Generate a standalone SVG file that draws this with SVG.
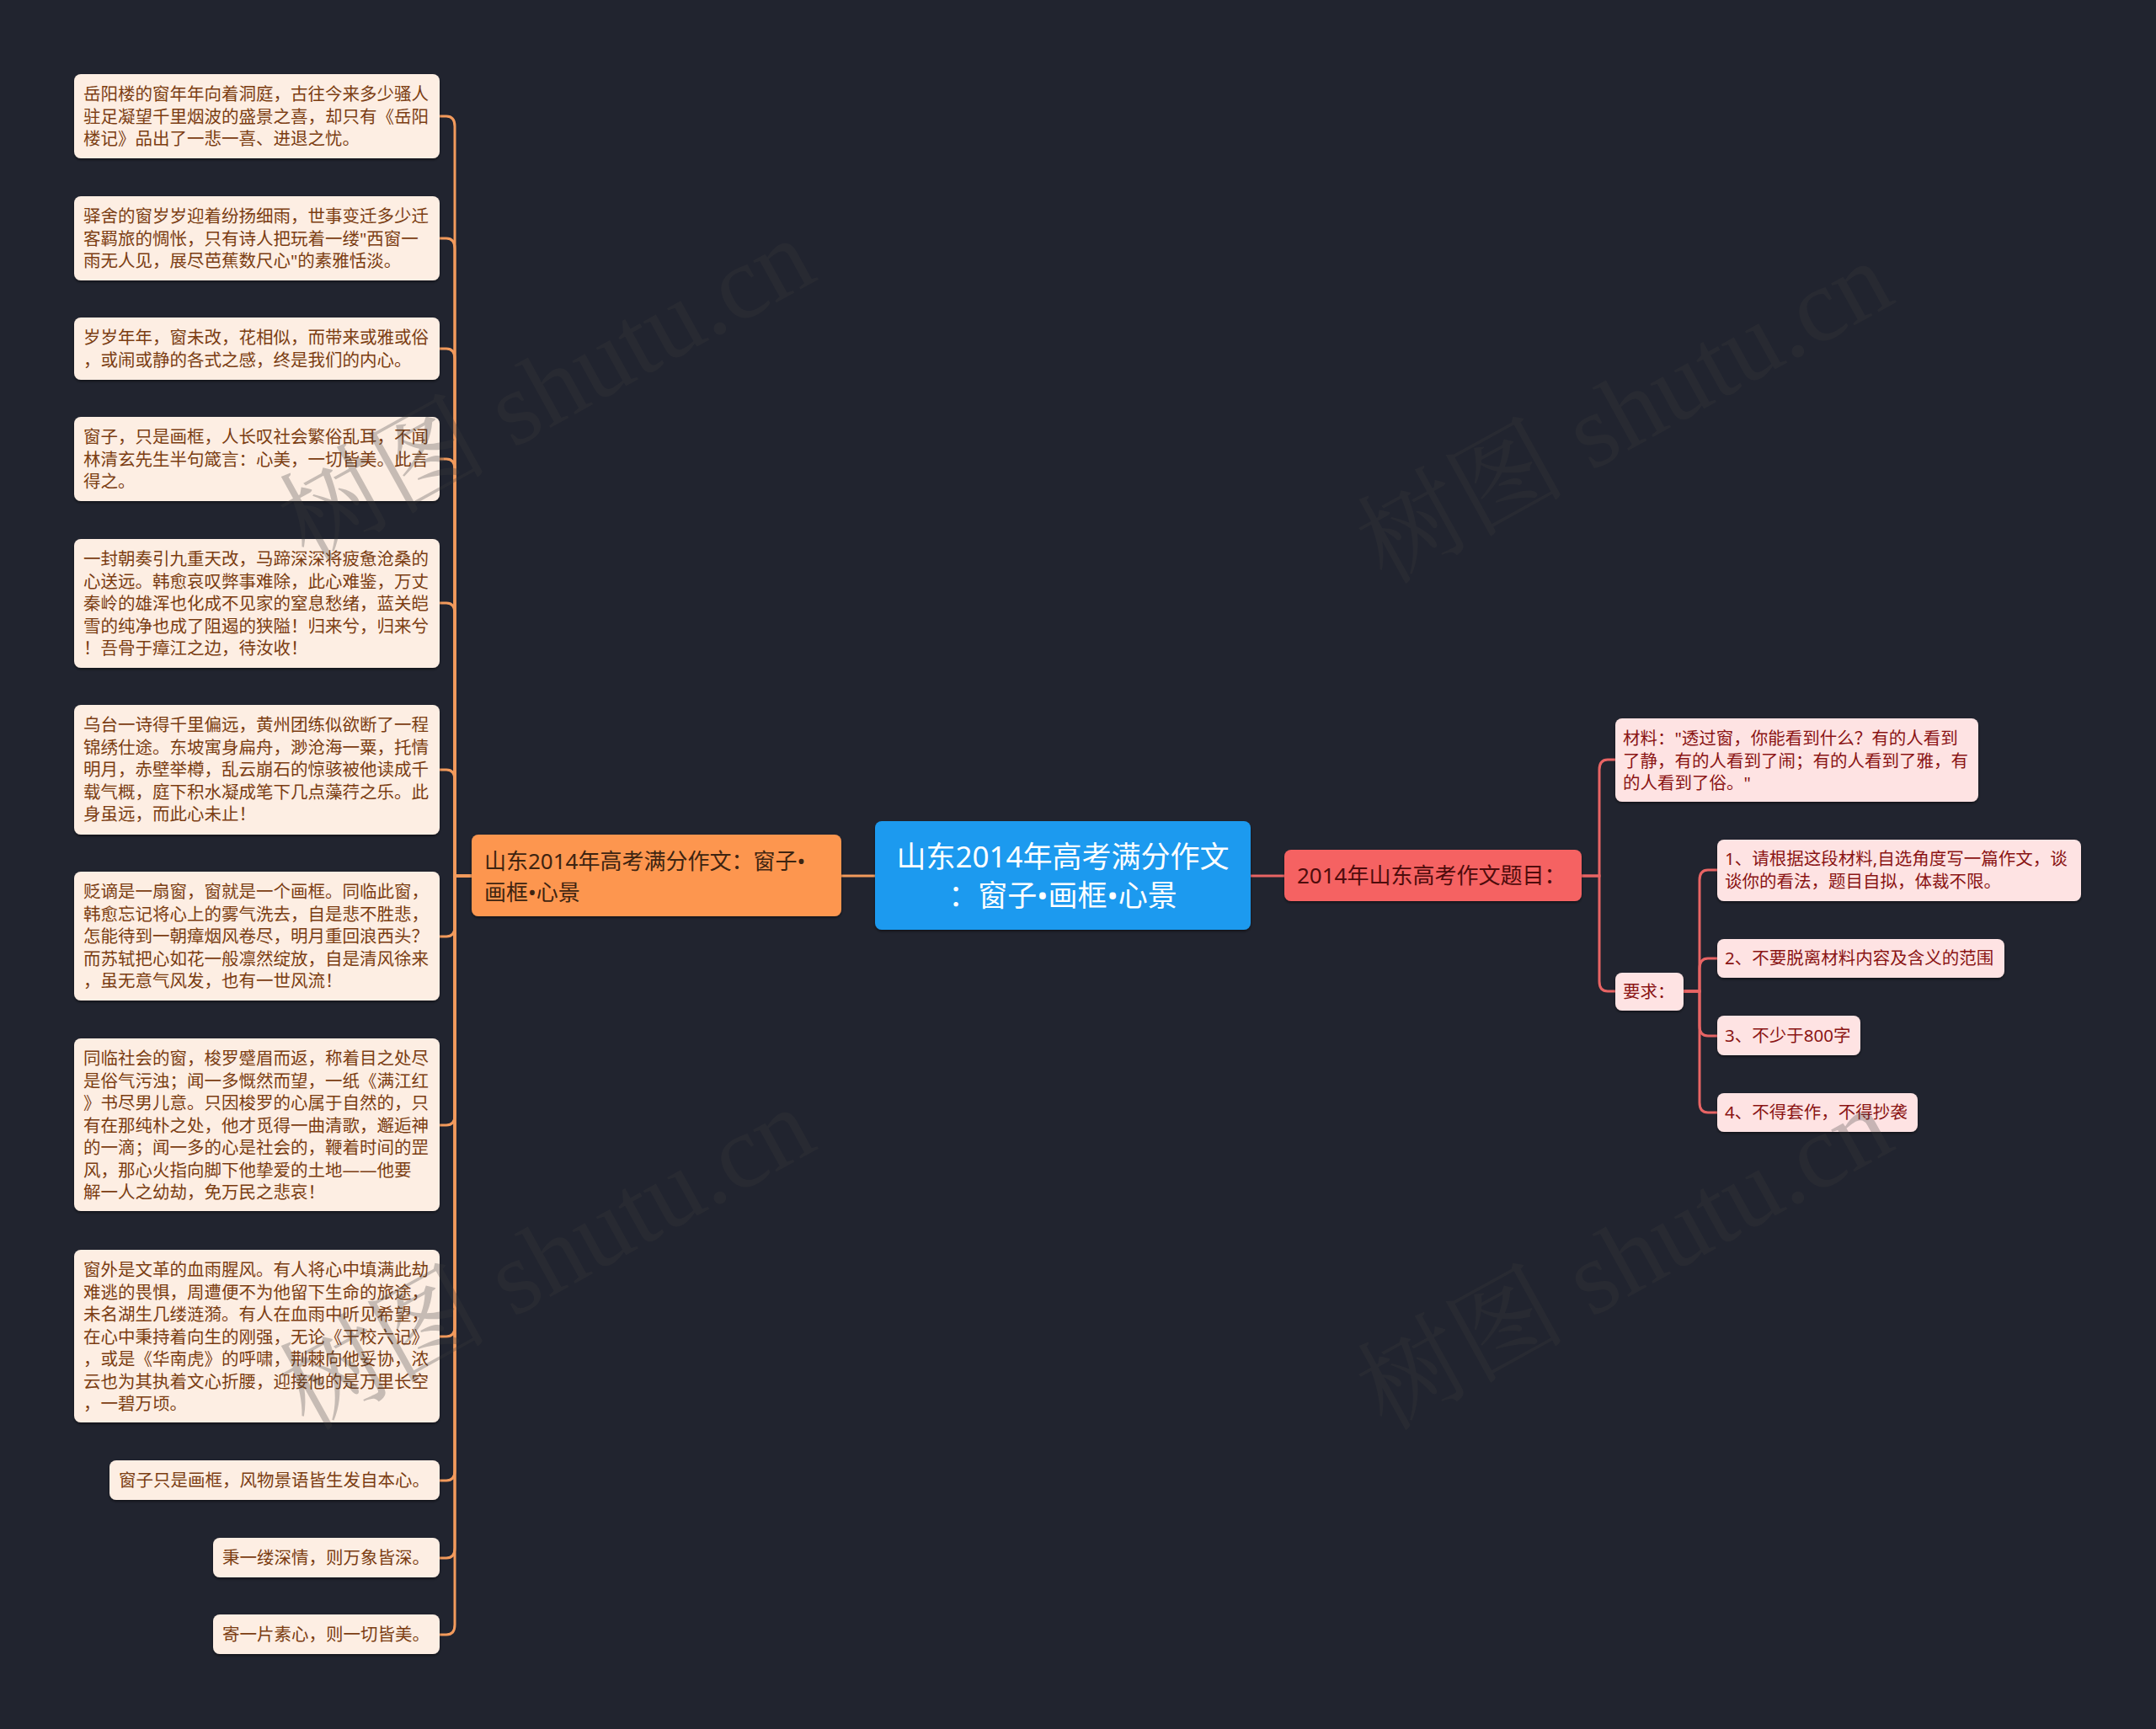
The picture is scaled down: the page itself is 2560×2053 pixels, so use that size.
<svg xmlns="http://www.w3.org/2000/svg" width="2560" height="2053" viewBox="0 0 2560 2053">
<style>
.bg{fill:#21242f}
.lf{fill:#fdeee3}
.lt{font-family:"Noto Sans","Noto Sans CJK SC",sans-serif;font-size:20.5px;fill:#7b3d12}
.rf{fill:#fee3e3}
.rt{font-family:"Noto Sans","Noto Sans CJK SC",sans-serif;font-size:20.5px;fill:#8a1414}
.cl{fill:none;stroke:#f29a5c;stroke-width:3}
.cr{fill:none;stroke:#e86464;stroke-width:3}
.wm{font-family:"Liberation Serif","Noto Serif CJK SC","Noto Sans CJK SC",serif;font-size:124px;fill:#3c3c3c;opacity:0.28}
</style>
<defs>
<filter id="sh" x="-5%" y="-5%" width="110%" height="120%">
<feDropShadow dx="0" dy="2" stdDeviation="1.5" flood-color="#000" flood-opacity="0.45"/>
</filter>
</defs>
<rect class="bg" x="0" y="0" width="2560" height="2053"/>

<g id="connectors">
<path class="cl" d="M1039,1040 H999"/>
<path class="cl" d="M560,1040 H540 V150 Q540,138 530,138 H522"/>
<path class="cl" d="M560,1040 H540 V295 Q540,283 530,283 H522"/>
<path class="cl" d="M560,1040 H540 V426 Q540,414 530,414 H522"/>
<path class="cl" d="M560,1040 H540 V557 Q540,545 530,545 H522"/>
<path class="cl" d="M560,1040 H540 V728 Q540,716 530,716 H522"/>
<path class="cl" d="M560,1040 H540 V926 Q540,914 530,914 H522"/>
<path class="cl" d="M560,1040 H540 V1100 Q540,1112 530,1112 H522"/>
<path class="cl" d="M560,1040 H540 V1324 Q540,1336 530,1336 H522"/>
<path class="cl" d="M560,1040 H540 V1575 Q540,1587 530,1587 H522"/>
<path class="cl" d="M560,1040 H540 V1746 Q540,1758 530,1758 H522"/>
<path class="cl" d="M560,1040 H540 V1838 Q540,1850 530,1850 H522"/>
<path class="cl" d="M560,1040 H540 V1929 Q540,1941 530,1941 H522"/>
<path class="cr" d="M1485,1040 H1525"/>
<path class="cr" d="M1878,1040 H1899 V914 Q1899,902 1909,902 H1918"/>
<path class="cr" d="M1878,1040 H1899 V1165 Q1899,1177 1909,1177 H1918"/>
<path class="cr" d="M1999,1177 H2018 V1045 Q2018,1033 2028,1033 H2039"/>
<path class="cr" d="M1999,1177 H2018 V1150 Q2018,1138 2028,1138 H2039"/>
<path class="cr" d="M1999,1177 H2018 V1218 Q2018,1230 2028,1230 H2039"/>
<path class="cr" d="M1999,1177 H2018 V1309 Q2018,1321 2028,1321 H2039"/>
</g>

<g id="root">
<rect x="1039" y="975" width="446" height="129" rx="8" fill="#1e9aef" filter="url(#sh)"/>
<text font-family="Noto Sans,Noto Sans CJK SC,sans-serif" font-size="35" fill="#ffffff" text-anchor="middle"><tspan x="1262" y="1030">山东2014年高考满分作文</tspan><tspan x="1262" y="1076">：窗子•画框•心景</tspan></text>
</g>

<g id="left-main">
<rect x="560" y="991" width="439" height="97" rx="8" fill="#fd9650" filter="url(#sh)"/>
<text font-family="Noto Sans,Noto Sans CJK SC,sans-serif" font-size="26" fill="#3d2411"><tspan x="575" y="1032">山东2014年高考满分作文：窗子•</tspan><tspan x="575" y="1069">画框•心景</tspan></text>
</g>

<g id="n1"><rect class="lf" x="88" y="88" width="434" height="100" rx="8" filter="url(#sh)"/>
<text class="lt"><tspan x="99" y="119">岳阳楼的窗年年向着洞庭，古往今来多少骚人</tspan><tspan x="99" y="145.5">驻足凝望千里烟波的盛景之喜，却只有《岳阳</tspan><tspan x="99" y="172">楼记》品出了一悲一喜、进退之忧。</tspan></text></g>

<g id="n2"><rect class="lf" x="88" y="233" width="434" height="100" rx="8" filter="url(#sh)"/>
<text class="lt"><tspan x="99" y="264">驿舍的窗岁岁迎着纷扬细雨，世事变迁多少迁</tspan><tspan x="99" y="290.5">客羁旅的惆怅，只有诗人把玩着一缕"西窗一</tspan><tspan x="99" y="317">雨无人见，展尽芭蕉数尺心"的素雅恬淡。</tspan></text></g>

<g id="n3"><rect class="lf" x="88" y="377" width="434" height="74" rx="8" filter="url(#sh)"/>
<text class="lt"><tspan x="99" y="408">岁岁年年，窗未改，花相似，而带来或雅或俗</tspan><tspan x="99" y="434.5">，或闹或静的各式之感，终是我们的内心。</tspan></text></g>

<g id="n4"><rect class="lf" x="88" y="495" width="434" height="100" rx="8" filter="url(#sh)"/>
<text class="lt"><tspan x="99" y="526">窗子，只是画框，人长叹社会繁俗乱耳，不闻</tspan><tspan x="99" y="552.5">林清玄先生半句箴言：心美，一切皆美。此言</tspan><tspan x="99" y="579">得之。</tspan></text></g>

<g id="n5"><rect class="lf" x="88" y="640" width="434" height="153" rx="8" filter="url(#sh)"/>
<text class="lt"><tspan x="99" y="671">一封朝奏引九重天改，马蹄深深将疲惫沧桑的</tspan><tspan x="99" y="697.5">心送远。韩愈哀叹弊事难除，此心难鉴，万丈</tspan><tspan x="99" y="724">秦岭的雄浑也化成不见家的窒息愁绪，蓝关皑</tspan><tspan x="99" y="750.5">雪的纯净也成了阻遏的狭隘！归来兮，归来兮</tspan><tspan x="99" y="777">！吾骨于瘴江之边，待汝收！</tspan></text></g>

<g id="n6"><rect class="lf" x="88" y="837" width="434" height="154" rx="8" filter="url(#sh)"/>
<text class="lt"><tspan x="99" y="868">乌台一诗得千里偏远，黄州团练似欲断了一程</tspan><tspan x="99" y="894.5">锦绣仕途。东坡寓身扁舟，渺沧海一粟，托情</tspan><tspan x="99" y="921">明月，赤壁举樽，乱云崩石的惊骇被他读成千</tspan><tspan x="99" y="947.5">载气概，庭下积水凝成笔下几点藻荇之乐。此</tspan><tspan x="99" y="974">身虽远，而此心未止！</tspan></text></g>

<g id="n7"><rect class="lf" x="88" y="1035" width="434" height="153" rx="8" filter="url(#sh)"/>
<text class="lt"><tspan x="99" y="1066">贬谪是一扇窗，窗就是一个画框。同临此窗，</tspan><tspan x="99" y="1092.5">韩愈忘记将心上的雾气洗去，自是悲不胜悲，</tspan><tspan x="99" y="1119">怎能待到一朝瘴烟风卷尽，明月重回浪西头？</tspan><tspan x="99" y="1145.5">而苏轼把心如花一般凛然绽放，自是清风徐来</tspan><tspan x="99" y="1172">，虽无意气风发，也有一世风流！</tspan></text></g>

<g id="n8"><rect class="lf" x="88" y="1233" width="434" height="205" rx="8" filter="url(#sh)"/>
<text class="lt"><tspan x="99" y="1264">同临社会的窗，梭罗蹙眉而返，称着目之处尽</tspan><tspan x="99" y="1290.5">是俗气污浊；闻一多慨然而望，一纸《满江红</tspan><tspan x="99" y="1317">》书尽男儿意。只因梭罗的心属于自然的，只</tspan><tspan x="99" y="1343.5">有在那纯朴之处，他才觅得一曲清歌，邂逅神</tspan><tspan x="99" y="1370">的一滴；闻一多的心是社会的，鞭着时间的罡</tspan><tspan x="99" y="1396.5">风，那心火指向脚下他挚爱的土地——他要</tspan><tspan x="99" y="1423">解一人之幼劫，免万民之悲哀！</tspan></text></g>

<g id="n9"><rect class="lf" x="88" y="1484" width="434" height="205" rx="8" filter="url(#sh)"/>
<text class="lt"><tspan x="99" y="1515">窗外是文革的血雨腥风。有人将心中填满此劫</tspan><tspan x="99" y="1541.5">难逃的畏惧，周遭便不为他留下生命的旅途，</tspan><tspan x="99" y="1568">未名湖生几缕涟漪。有人在血雨中听见希望，</tspan><tspan x="99" y="1594.5">在心中秉持着向生的刚强，无论《干校六记》</tspan><tspan x="99" y="1621">，或是《华南虎》的呼啸，荆棘向他妥协，浓</tspan><tspan x="99" y="1647.5">云也为其执着文心折腰，迎接他的是万里长空</tspan><tspan x="99" y="1674">，一碧万顷。</tspan></text></g>

<g id="n10"><rect class="lf" x="130" y="1734" width="392" height="47" rx="8" filter="url(#sh)"/>
<text class="lt" x="141" y="1765">窗子只是画框，风物景语皆生发自本心。</text></g>

<g id="n11"><rect class="lf" x="253" y="1826" width="269" height="47" rx="8" filter="url(#sh)"/>
<text class="lt" x="264" y="1857">秉一缕深情，则万象皆深。</text></g>

<g id="n12"><rect class="lf" x="253" y="1917" width="269" height="47" rx="8" filter="url(#sh)"/>
<text class="lt" x="264" y="1948">寄一片素心，则一切皆美。</text></g>

<g id="right-main"><rect x="1525" y="1009" width="353" height="61" rx="8" fill="#f56262" filter="url(#sh)"/>
<text font-family="Noto Sans,Noto Sans CJK SC,sans-serif" font-size="26" fill="#4e0c0c" x="1540" y="1049">2014年山东高考作文题目：</text></g>

<g id="material"><rect class="rf" x="1918" y="853" width="431" height="99" rx="8" filter="url(#sh)"/>
<text class="rt"><tspan x="1927" y="884">材料："透过窗，你能看到什么？有的人看到</tspan><tspan x="1927" y="910.5">了静，有的人看到了闹；有的人看到了雅，有</tspan><tspan x="1927" y="937">的人看到了俗。"</tspan></text></g>

<g id="require"><rect class="rf" x="1918" y="1155" width="81" height="45" rx="8" filter="url(#sh)"/>
<text class="rt" x="1927" y="1185">要求：</text></g>

<g id="r1"><rect class="rf" x="2039" y="997" width="432" height="73" rx="8" filter="url(#sh)"/>
<text class="rt"><tspan x="2048" y="1027">1、请根据这段材料,自选角度写一篇作文，谈</tspan><tspan x="2048" y="1053.5">谈你的看法，题目自拟，体裁不限。</tspan></text></g>

<g id="r2"><rect class="rf" x="2039" y="1115" width="341" height="46" rx="8" filter="url(#sh)"/>
<text class="rt" x="2048" y="1145">2、不要脱离材料内容及含义的范围</text></g>

<g id="r3"><rect class="rf" x="2039" y="1206" width="170" height="47" rx="8" filter="url(#sh)"/>
<text class="rt" x="2048" y="1237">3、不少于800字</text></g>

<g id="r4"><rect class="rf" x="2039" y="1298" width="238" height="46" rx="8" filter="url(#sh)"/>
<text class="rt" x="2048" y="1328">4、不得套作，不得抄袭</text></g>

<g id="watermarks">
<text class="wm" transform="translate(365,668) rotate(-29)">树图 shutu.cn</text>
<text class="wm" transform="translate(1645,695) rotate(-29)">树图 shutu.cn</text>
<text class="wm" transform="translate(365,1700) rotate(-29)">树图 shutu.cn</text>
<text class="wm" transform="translate(1645,1700) rotate(-29)">树图 shutu.cn</text>
</g>
</svg>
